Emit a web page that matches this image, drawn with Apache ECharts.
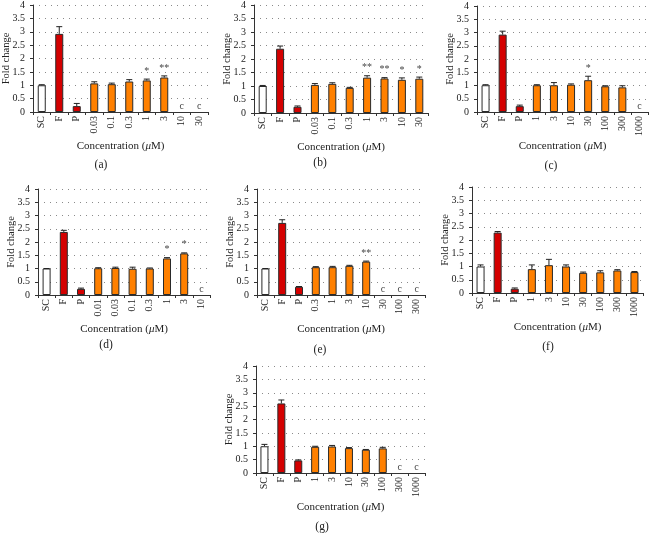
<!DOCTYPE html>
<html><head><meta charset="utf-8">
<script src="https://cdn.jsdelivr.net/npm/echarts@6/dist/echarts.min.js"></script>
<style>html,body{margin:0;padding:0;background:#fff}#c{width:651px;height:533px}</style>
</head><body><div id="c"></div>
<script>
// ---- data ----
const yTicks = [0, 0.5, 1, 1.5, 2, 2.5, 3, 3.5, 4];

const catsA = ['SC','F','P','0.03','0.1','0.3','1','3','10','30'];
const valsA = [1.00, 2.92, 0.22, 1.07, 1.04, 1.14, 1.18, 1.29, null, null];
const errsA = [0.02, 0.27, 0.10, 0.06, 0.04, 0.07, 0.05, 0.06, null, null];
const marksA = ['', '', '', '', '', '', '*', '**', 'c', 'c'];

const catsB = ['SC','F','P','0.03','0.1','0.3','1','3','10','30'];
const valsB = [1.00, 2.38, 0.23, 1.04, 1.08, 0.93, 1.31, 1.28, 1.23, 1.27];
const errsB = [0.02, 0.10, 0.03, 0.05, 0.04, 0.02, 0.07, 0.03, 0.07, 0.06];
const marksB = ['', '', '', '', '', '', '**', '**', '*', '*'];

const catsC = ['SC','F','P','1','3','10','30','100','300','1000'];
const valsC = [1.01, 2.92, 0.22, 1.01, 1.01, 1.03, 1.20, 0.97, 0.93, null];
const errsC = [0.02, 0.13, 0.04, 0.02, 0.10, 0.03, 0.15, 0.02, 0.06, null];
const marksC = ['', '', '', '', '', '', '*', '', '', 'c'];

const catsD = ['SC','F','P','0.01','0.03','0.1','0.3','1','3','10'];
const valsD = [1.00, 2.38, 0.23, 1.01, 1.02, 0.99, 1.00, 1.38, 1.57, null];
const errsD = [0.00, 0.06, 0.03, 0.02, 0.03, 0.06, 0.02, 0.03, 0.02, null];
const marksD = ['', '', '', '', '', '', '', '*', '*', 'c'];

const catsE = ['SC','F','P','0.3','1','3','10','30','100','300'];
const valsE = [1.00, 2.72, 0.31, 1.05, 1.05, 1.10, 1.26, null, null, null];
const errsE = [0.00, 0.12, 0.01, 0.02, 0.03, 0.02, 0.02, null, null, null];
const marksE = ['', '', '', '', '', '', '**', 'c', 'c', 'c'];

const catsF = ['SC','F','P','1','3','10','30','100','300','1000'];
const valsF = [1.00, 2.28, 0.16, 0.90, 1.05, 1.00, 0.76, 0.78, 0.85, 0.79];
const errsF = [0.06, 0.04, 0.03, 0.16, 0.22, 0.06, 0.03, 0.06, 0.03, 0.02];
const marksF = ['', '', '', '', '', '', '', '', '', ''];

const catsG = ['SC','F','P','1','3','10','30','100','300','1000'];
const valsG = [1.00, 2.60, 0.47, 0.98, 0.99, 0.93, 0.87, 0.92, null, null];
const errsG = [0.07, 0.13, 0.02, 0.02, 0.04, 0.02, 0.01, 0.04, null, null];
const marksG = ['', '', '', '', '', '', '', '', 'c', 'c'];

const panelLabels = ['(a)','(b)','(c)','(d)','(e)','(f)','(g)'];
const xTitle = 'Concentration ({i|μ}M)';
const yTitle = 'Fold change';

// ---- layout ----
const panels = [
  {cats: catsA, vals: valsA, errs: errsA, marks: marksA, grid: {left: 33, top: 5, width: 175, height: 107}, lab: [101, 165]},
  {cats: catsB, vals: valsB, errs: errsB, marks: marksB, grid: {left: 254, top: 5, width: 174, height: 108}, lab: [320, 163]},
  {cats: catsC, vals: valsC, errs: errsC, marks: marksC, grid: {left: 477, top: 6, width: 171, height: 106}, lab: [551, 166]},
  {cats: catsD, vals: valsD, errs: errsD, marks: marksD, grid: {left: 38, top: 189, width: 172, height: 106}, lab: [106, 345]},
  {cats: catsE, vals: valsE, errs: errsE, marks: marksE, grid: {left: 257, top: 189, width: 168, height: 106}, lab: [320, 350]},
  {cats: catsF, vals: valsF, errs: errsF, marks: marksF, grid: {left: 472, top: 187, width: 171, height: 106}, lab: [548, 347]},
  {cats: catsG, vals: valsG, errs: errsG, marks: marksG, grid: {left: 256, top: 366, width: 169, height: 107}, lab: [322, 527]}
];

const FONT = '"Liberation Serif", "DejaVu Serif", serif';
const TXT = '#222';
const AX = '#333';
function barColor(i) { return i === 0 ? '#ffffff' : (i < 3 ? '#d40000' : '#ff8000'); }

const grids = [], xAxes = [], yAxes = [], series = [], graphics = [];
panels.forEach((p, k) => {
  grids.push(Object.assign({containLabel: false}, p.grid));
  xAxes.push({
    type: 'category', gridIndex: k, data: p.cats,
    axisLine: {lineStyle: {color: AX, width: 1}},
    axisTick: {show: true, length: 3, lineStyle: {color: AX}},
    axisLabel: {rotate: 90, margin: 4, fontSize: 10, color: TXT, fontFamily: FONT, interval: 0, hideOverlap: false},
    name: xTitle, nameLocation: 'middle', nameGap: 29, nameMoveOverlap: false,
    nameTextStyle: {fontSize: 11, color: TXT, fontFamily: FONT, rich: {i: {fontStyle: 'italic', fontSize: 11, color: TXT, fontFamily: FONT}}}
  });
  yAxes.push({
    type: 'value', gridIndex: k, min: yTicks[0], max: yTicks[yTicks.length - 1], interval: yTicks[1] - yTicks[0],
    axisLine: {show: true, lineStyle: {color: AX, width: 1}},
    axisTick: {show: true, length: 3, lineStyle: {color: AX}},
    axisLabel: {show: false},
    splitLine: {show: true, lineStyle: {color: '#8a8a8a', type: [1, 5], width: 1}},
    name: yTitle, nameLocation: 'middle', nameGap: 21, nameMoveOverlap: false,
    nameTextStyle: {fontSize: 10.5, color: TXT, fontFamily: FONT}
  });
  // y tick labels, placed through the axes
  series.push({
    type: 'custom', xAxisIndex: k, yAxisIndex: k, silent: true, z: 5, clip: false,
    data: yTicks.map(v => [0, v]),
    renderItem: function (params, api) {
      const v = api.value(1);
      const pt = api.coord([0, v]);
      const band = api.size([1, 0])[0];
      return {type: 'text', x: pt[0] - band / 2 - 8, y: pt[1],
        style: {text: String(v), fill: TXT, font: '10px ' + FONT, textAlign: 'right', textVerticalAlign: 'middle'}};
    }
  });
  series.push({
    type: 'bar', xAxisIndex: k, yAxisIndex: k, barWidth: 8, silent: true,
    data: p.vals.map((v, i) => ({value: v, itemStyle: {color: barColor(i), borderColor: '#2a2a2a', borderWidth: 1}})),
    z: 2
  });
  const errData = [];
  p.vals.forEach((v, i) => { if (v !== null && p.errs[i] !== null) errData.push([i, v, p.errs[i]]); });
  series.push({
    type: 'custom', xAxisIndex: k, yAxisIndex: k, silent: true, z: 3,
    data: errData,
    renderItem: function (params, api) {
      const x = api.value(0), v = api.value(1), e = api.value(2);
      const p0 = api.coord([x, v]), p1 = api.coord([x, v + e]);
      const hw = 3;
      return {type: 'group', children: [
        {type: 'line', shape: {x1: p0[0], y1: p0[1], x2: p1[0], y2: p1[1]}, style: {stroke: '#222', lineWidth: 1}},
        {type: 'line', shape: {x1: p1[0] - hw, y1: p1[1], x2: p1[0] + hw, y2: p1[1]}, style: {stroke: '#222', lineWidth: 1}}
      ]};
    }
  });
  const annData = [], annText = [];
  p.marks.forEach((m, i) => {
    if (!m) return;
    const top = p.vals[i] === null ? 0 : p.vals[i] + (p.errs[i] || 0);
    annData.push([i, top]); annText.push(m);
  });
  series.push({
    type: 'custom', xAxisIndex: k, yAxisIndex: k, silent: true, z: 4,
    data: annData,
    renderItem: function (params, api) {
      const t = annText[params.dataIndex];
      const pt = api.coord([api.value(0), api.value(1)]);
      const isC = t === 'c';
      return {type: 'text', x: pt[0], y: isC ? pt[1] - 6 : pt[1] - 3,
        style: {text: t, fill: '#444', font: '10px ' + FONT,
          textAlign: 'center', textVerticalAlign: isC ? 'middle' : 'bottom'}};
    }
  });
  graphics.push({type: 'text', x: p.lab[0], y: p.lab[1],
    style: {text: panelLabels[k], fill: TXT, font: '11.5px ' + FONT, textAlign: 'center', textVerticalAlign: 'middle'}});
});

const chart = echarts.init(document.getElementById('c'), null, {renderer: 'canvas'});
chart.setOption({
  animation: false, backgroundColor: '#ffffff',
  grid: grids, xAxis: xAxes, yAxis: yAxes, series: series, graphic: graphics
});
</script>
</body></html>
